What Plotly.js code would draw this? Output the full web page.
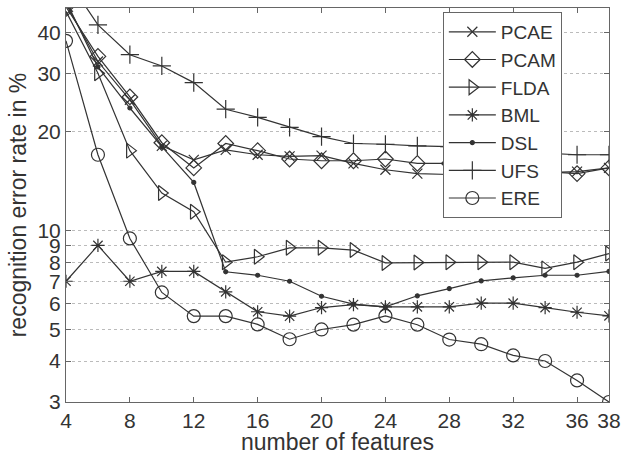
<!DOCTYPE html>
<html><head><meta charset="utf-8">
<script src="https://cdn.plot.ly/plotly-3.0.1.min.js"></script>
<style>body{margin:0;background:#fff}</style>
</head><body>
<div id="chart" style="width:621px;height:455px"></div>
<script>
const features = [4,6,8,10,12,14,16,18,20,22,24,26,28,30,32,34,36,38];
const PCAE = [49,32.7,25.0,18.1,16.4,17.6,17.0,16.8,16.9,16.0,15.3,14.9,14.8,14.8,14.9,15.0,15.1,15.5];
const PCAM = [48,33.9,25.5,18.5,15.5,18.4,17.5,16.5,16.3,16.3,16.5,16.0,16.0,15.7,15.4,15.1,14.9,15.5];
const FLDA = [46.5,30.1,17.5,13.0,11.4,8.0,8.31,8.85,8.85,8.71,7.96,7.98,8.0,8.0,8.0,7.66,8.0,8.5];
const BML  = [7.0,9.0,7.0,7.5,7.5,6.5,5.65,5.48,5.82,5.94,5.85,5.85,5.85,6.0,6.0,5.82,5.63,5.49];
const DSL  = [50,31.5,23.6,18.0,14.0,7.48,7.3,7.0,6.3,5.96,5.85,6.32,6.65,7.02,7.17,7.3,7.3,7.5];
const UFS  = [59,42.3,34.3,31.7,28.2,23.4,22.1,20.6,19.3,18.4,18.3,18.1,18.0,17.8,17.5,17.2,17.0,17.0];
const ERE  = [37.8,17.0,9.45,6.47,5.48,5.48,5.17,4.66,4.99,5.16,5.49,5.16,4.65,4.5,4.16,4.0,3.49,3.0];

const seriesNames = ['PCAE','PCAM','FLDA','BML','DSL','UFS','ERE'];
const seriesData = [PCAE,PCAM,FLDA,BML,DSL,UFS,ERE];
const symbols = ['x-thin-open','diamond-open','triangle-right-open','asterisk-open','circle','cross-thin-open','circle-open'];
const sizes = [10,12,13,11,4,13,13];

const yTicks = [3,4,5,6,7,8,9,10,20,30,40];
const xTicks = [4,8,12,16,20,24,28,32,36,38];

const ink = '#333';
const traces = seriesNames.map((n,i)=>({
  x: features, y: seriesData[i], name: n, type:'scatter', mode:'lines+markers',
  line:{color:ink, width:1.2},
  marker:{symbol:symbols[i], size:sizes[i], color:ink, line:{color:ink, width:1.2}}
}));

const layout = {
  width:621, height:455,
  margin:{l:66, r:12, t:8, b:53},
  paper_bgcolor:'#fff', plot_bgcolor:'#fff',
  font:{family:'Liberation Sans, Arial, sans-serif', color:ink, size:21},
  showlegend:true,
  legend:{x:0.694, y:0.99, xanchor:'left', yanchor:'top', bgcolor:'#fff',
    bordercolor:'#666', borderwidth:1, font:{size:19, color:ink}, itemwidth:47,
    tracegroupgap:0},
  xaxis:{range:[4,38], tickvals:xTicks, ticktext:xTicks.map(String),
    ticks:'inside', ticklen:5, tickcolor:'#666', showline:true, linecolor:'#666', linewidth:1,
    mirror:'ticks', showgrid:false, zeroline:false,
    title:{text:'number of features', font:{size:23}, standoff:4}},
  yaxis:{type:'log', range:[Math.log10(3), Math.log10(47.6)], tickvals:yTicks, ticktext:yTicks.map(String),
    ticks:'inside', ticklen:5, tickcolor:'#666', showline:true, linecolor:'#666', linewidth:1,
    mirror:'ticks', showgrid:true, gridcolor:'#bbb', griddash:'dot', gridwidth:1, zeroline:false,
    title:{text:'recognition error rate in %', font:{size:23}, standoff:4}}
};
Plotly.newPlot('chart', traces, layout, {displayModeBar:false, staticPlot:true});
</script>
</body></html>
